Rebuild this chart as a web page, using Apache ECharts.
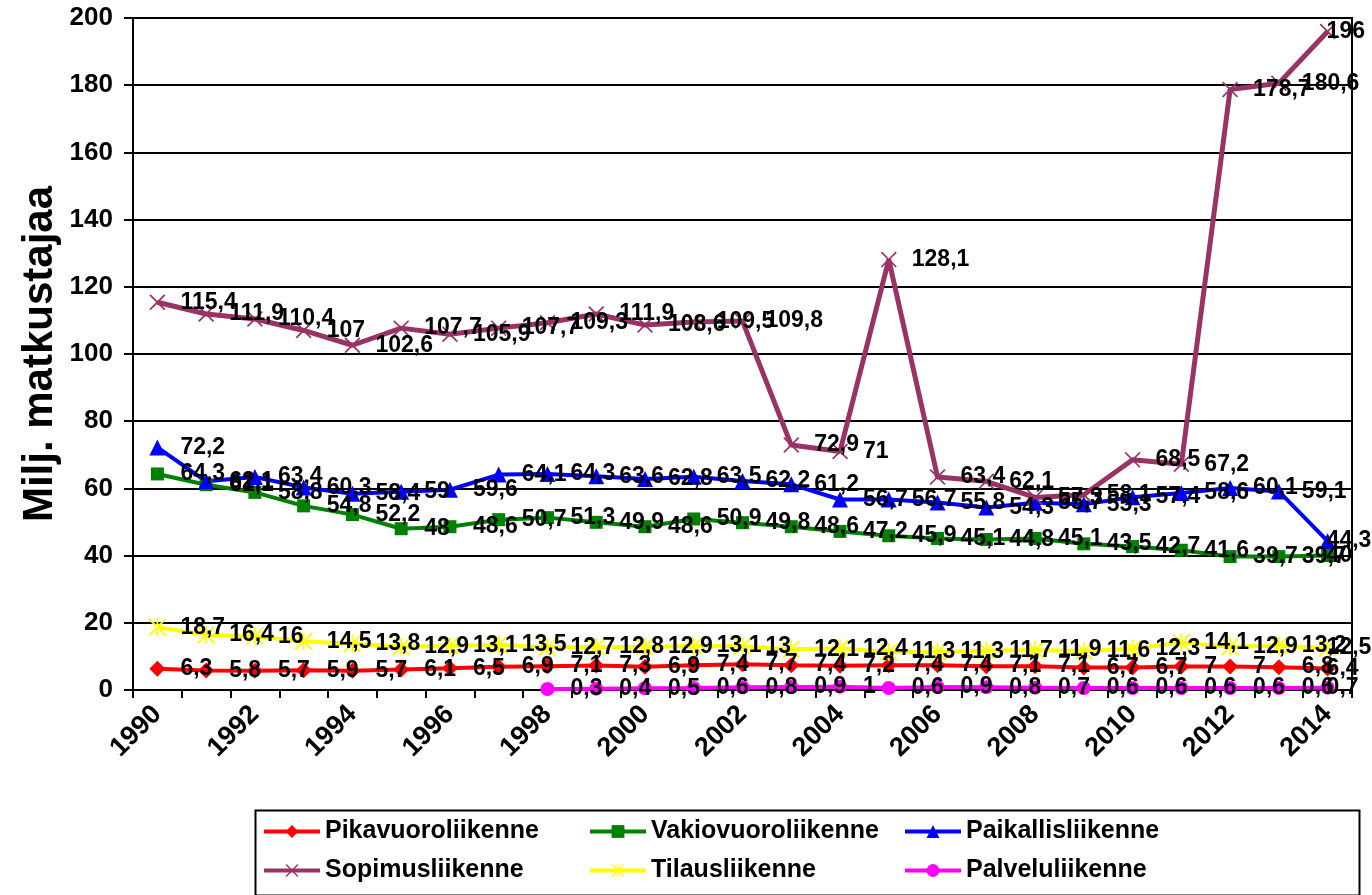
<!DOCTYPE html>
<html>
<head>
<meta charset="utf-8">
<script src="https://cdn.jsdelivr.net/npm/echarts@6/dist/echarts.min.js"></script>
<style>
html,body{margin:0;padding:0;background:#fff;}
#chart{width:1372px;height:895px;}
</style>
</head>
<body>
<div id="chart"></div>
<script>
// ---- data ----
var years = ['1990','1991','1992','1993','1994','1995','1996','1997','1998','1999','2000','2001','2002','2003','2004','2005','2006','2007','2008','2009','2010','2011','2012','2013','2014'];
var yTicks = [0, 20, 40, 60, 80, 100, 120, 140, 160, 180, 200];

var pikavuoro = [6.3, 5.8, 5.7, 5.9, 5.7, 6.1, 6.5, 6.9, 7.1, 7.3, 6.9, 7.4, 7.7, 7.4, 7.2, 7.4, 7.4, 7.1, 7.1, 6.7, 6.7, 7, 7, 6.8, 6.4];
var vakiovuoro = [64.3, 61.1, 58.8, 54.8, 52.2, 48, 48.6, 50.7, 51.3, 49.9, 48.6, 50.9, 49.8, 48.6, 47.2, 45.9, 45.1, 44.8, 45.1, 43.5, 42.7, 41.6, 39.7, 39.7, 40];
var paikallis = [72.2, 62.1, 63.4, 60.3, 58.4, 59, 59.6, 64.1, 64.3, 63.6, 62.8, 63.5, 62.2, 61.2, 56.7, 56.7, 55.8, 54.3, 55.7, 55.3, 57.4, 58.6, 60.1, 59.1, 44.3];
var sopimus = [115.4, 111.9, 110.4, 107, 102.6, 107.7, 105.9, 107.7, 109.3, 111.9, 108.6, 109.5, 109.8, 72.9, 71, 128.1, 63.4, 62.1, 57.3, 58.1, 68.5, 67.2, 178.7, 180.6, 196];
var tilaus = [18.7, 16.4, 16, 14.5, 13.8, 12.9, 13.1, 13.5, 12.7, 12.8, 12.9, 13.1, 13, 12.1, 12.4, 11.3, 11.3, 11.7, 11.9, 11.6, 12.3, 14.1, 12.9, 13.2, 12.5];
var palvelu = [null, null, null, null, null, null, null, null, 0.3, 0.4, 0.5, 0.6, 0.8, 0.9, 1, 0.6, 0.9, 0.8, 0.7, 0.6, 0.6, 0.6, 0.6, 0.6, 0.7];

var names = ['Pikavuoroliikenne','Vakiovuoroliikenne','Paikallisliikenne','Sopimusliikenne','Tilausliikenne','Palveluliikenne'];

// ---- styling ----
var FONT = '"Liberation Sans", Arial, sans-serif';
var crossPath = 'path://M1.5,0 L10,8.5 L18.5,0 L20,1.5 L11.5,10 L20,18.5 L18.5,20 L10,11.5 L1.5,20 L0,18.5 L8.5,10 L0,1.5 Z';
var starPath = 'path://M1.5,0 L10,8.5 L18.5,0 L20,1.5 L11.5,10 L20,18.5 L18.5,20 L10,11.5 L1.5,20 L0,18.5 L8.5,10 L0,1.5 Z M9,0 L9,20 L11,20 L11,0 Z';

function fmt(p){ return p.value == null ? '' : String(p.value).replace('.', ','); }

function buildData(arr){
  var last = arr.length - 1;
  return arr.map(function(v, i){
    if (i === last) return {value: v, label: {offset: [-24, 0]}};
    return v;
  });
}

function mkSeries(name, arr, color, symbol, size, width){
  return {
    name: name,
    type: 'line',
    data: buildData(arr),
    symbol: symbol,
    symbolSize: size,
    showAllSymbol: true,
    connectNulls: false,
    lineStyle: {color: color, width: width},
    itemStyle: {color: color},
    label: {
      show: true,
      position: 'right',
      distance: 23 - size / 2,
      color: '#000',
      fontFamily: FONT,
      fontWeight: 'bold',
      fontSize: 23,
      formatter: fmt
    },
    emphasis: {disabled: true},
    animation: false
  };
}

var series = [
  mkSeries(names[0], pikavuoro, '#FF0000', 'diamond', 16, 4),
  mkSeries(names[1], vakiovuoro, '#008000', 'rect', 13, 4),
  mkSeries(names[2], paikallis, '#0000FF', 'triangle', 16, 4),
  mkSeries(names[3], sopimus, '#993366', crossPath, 16, 5),
  mkSeries(names[4], tilaus, '#FFFF00', starPath, 18, 4),
  mkSeries(names[5], palvelu, '#FF00FF', 'circle', 14, 4)
];

var legendText = {color: '#000', fontFamily: FONT, fontWeight: 'bold', fontSize: 25};
function mkLegend(left, data){
  return {
    orient: 'vertical',
    left: left,
    top: 819,
    height: 76,
    padding: 0,
    itemWidth: 56,
    itemHeight: 16,
    itemGap: 14,
    lineStyle: {width: 4},
    data: data,
    textStyle: legendText,
    selectedMode: false
  };
}

var chart = echarts.init(document.getElementById('chart'), null, {renderer: 'canvas'});
chart.setOption({
  backgroundColor: '#fff',
  animation: false,
  grid: {left: 133, right: 20, top: 18, bottom: 205, show: true, borderColor: '#000', borderWidth: 2, backgroundColor: 'transparent'},
  xAxis: {
    type: 'category',
    data: years,
    boundaryGap: true,
    axisLine: {lineStyle: {color: '#000', width: 2}},
    axisTick: {show: true, interval: 0, length: 8, lineStyle: {color: '#000', width: 2}},
    axisLabel: {
      interval: 1,
      rotate: 45,
      margin: 20,
      color: '#000',
      fontFamily: FONT,
      fontWeight: 'bold',
      fontSize: 27
    },
    splitLine: {show: false}
  },
  yAxis: {
    type: 'value',
    min: yTicks[0],
    max: yTicks[yTicks.length - 1],
    interval: yTicks[1] - yTicks[0],
    name: 'Milj. matkustajaa',
    nameLocation: 'middle',
    nameGap: 72,
    nameRotate: 90,
    nameMoveOverlap: false,
    nameTextStyle: {color: '#000', fontFamily: FONT, fontWeight: 'bold', fontSize: 42},
    axisLine: {show: true, lineStyle: {color: '#000', width: 2}},
    axisTick: {show: true, length: 9, lineStyle: {color: '#000', width: 2}},
    axisLabel: {color: '#000', fontFamily: FONT, fontWeight: 'bold', fontSize: 26, margin: 20},
    splitLine: {show: true, lineStyle: {color: '#000', width: 2}}
  },
  legend: [
    mkLegend(262, [names[0], names[3]]),
    mkLegend(588, [names[1], names[4]]),
    mkLegend(903, [names[2], names[5]])
  ],
  graphic: [{
    type: 'rect',
    left: 253,
    top: 808,
    shape: {width: 1104, height: 85},
    style: {fill: 'none', stroke: '#000', lineWidth: 2},
    z: -1
  }],
  series: series
});
</script>
</body>
</html>
